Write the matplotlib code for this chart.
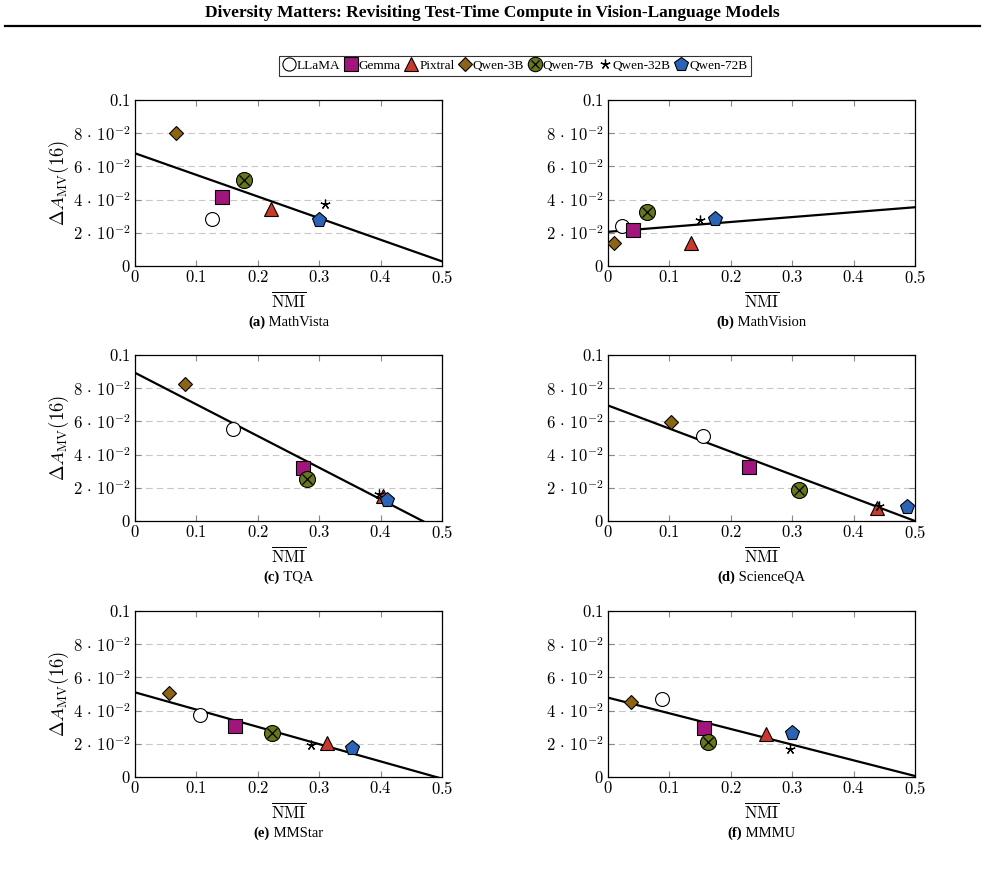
import numpy as np
import matplotlib
matplotlib.use('Agg')
import matplotlib.pyplot as plt
from matplotlib.lines import Line2D

plt.rcParams['mathtext.fontset'] = 'cm'
plt.rcParams['font.family'] = 'Liberation Serif'

# model order used in every panel
models = ['LLaMA', 'Gemma', 'Pixtral', 'Qwen-3B', 'Qwen-7B', 'Qwen-32B', 'Qwen-72B']

# (NMI, delta A_MV(16)) per benchmark
mathvista_x = [0.126, 0.142, 0.222, 0.067, 0.178, 0.310, 0.300]
mathvista_y = [0.0285, 0.0416, 0.0345, 0.0802, 0.0521, 0.0372, 0.0275]
mathvision_x = [0.023, 0.041, 0.135, 0.009, 0.063, 0.150, 0.175]
mathvision_y = [0.0238, 0.0218, 0.0140, 0.0141, 0.0325, 0.0278, 0.0285]
tqa_x = [0.159, 0.274, 0.404, 0.082, 0.280, 0.398, 0.411]
tqa_y = [0.0556, 0.0320, 0.0152, 0.0825, 0.0256, 0.0165, 0.0128]
scienceqa_x = [0.155, 0.230, 0.438, 0.102, 0.311, 0.442, 0.487]
scienceqa_y = [0.0512, 0.0324, 0.0080, 0.0598, 0.0184, 0.0088, 0.0082]
mmstar_x = [0.106, 0.163, 0.312, 0.056, 0.223, 0.286, 0.354]
mmstar_y = [0.0372, 0.0308, 0.0202, 0.0508, 0.0264, 0.0190, 0.0177]
mmmu_x = [0.088, 0.156, 0.258, 0.038, 0.163, 0.297, 0.300]
mmmu_y = [0.0470, 0.0298, 0.0262, 0.0450, 0.0212, 0.0166, 0.0263]

# regression line end points (value at NMI=0 and at NMI=0.5)
fit_start = [0.0679, 0.0206, 0.0893, 0.0696, 0.0510, 0.0478]
fit_end = [0.0028, 0.0354, -0.0060, 0.0000, -0.0010, 0.0006]

panels = [
    ('(a)', 'MathVista', mathvista_x, mathvista_y),
    ('(b)', 'MathVision', mathvision_x, mathvision_y),
    ('(c)', 'TQA', tqa_x, tqa_y),
    ('(d)', 'ScienceQA', scienceqa_x, scienceqa_y),
    ('(e)', 'MMStar', mmstar_x, mmstar_y),
    ('(f)', 'MMMU', mmmu_x, mmmu_y),
]

yticks = [0, 0.02, 0.04, 0.06, 0.08, 0.1]
ytick_labels = [r'$0$', r'$2\,\cdot\,10^{-2}$', r'$4\,\cdot\,10^{-2}$',
                r'$6\,\cdot\,10^{-2}$', r'$8\,\cdot\,10^{-2}$', r'$0.1$']
xticks = [0, 0.1, 0.2, 0.3, 0.4, 0.5]
xtick_labels = [r'$0$', r'$0.1$', r'$0.2$', r'$0.3$', r'$0.4$', r'$0.5$']

styles = {
    'LLaMA':    dict(marker='o', mfc='white', ms=10),
    'Gemma':    dict(marker='s', mfc='#A2157C', ms=10),
    'Pixtral':  dict(marker='^', mfc='#C9392D', ms=10),
    'Qwen-3B':  dict(marker='D', mfc='#8C6414', ms=7.5),
    'Qwen-7B':  dict(marker='o', mfc='#66781E', ms=11.5),
    'Qwen-32B': dict(marker=(5, 2, 0), mfc='black', ms=7),
    'Qwen-72B': dict(marker='p', mfc='#2B64B6', ms=11),
}

W, H = 985, 872
fig = plt.figure(figsize=(W / 100, H / 100), dpi=100)

# header
fig.text(0.5, 1 - 13 / H, 'Diversity Matters: Revisiting Test-Time Compute in Vision-Language Models',
         ha='center', va='center', fontsize=12.5, fontweight='bold')
fig.add_artist(Line2D([5 / W, 980 / W], [1 - 26 / H, 1 - 26 / H], color='black', lw=1.6))

col_x = [135, 608]
row_bottom = [266, 521, 777]
ax_w, ax_h = 307, 166

for i, (tag, name, xs, ys) in enumerate(panels):
    r, c = divmod(i, 2)
    left = col_x[c] / W
    bottom = 1 - row_bottom[r] / H
    ax = fig.add_axes([left, bottom, ax_w / W, ax_h / H])

    for y in yticks[1:-1]:
        ax.axhline(y, color='#c8c8c8', lw=0.8, dashes=(6, 3.5), zorder=0)

    ax.plot([0, 0.5], [fit_start[i], fit_end[i]], color='black', lw=1.6, zorder=2)

    for j, m in enumerate(models):
        st = styles[m]
        if m == 'Qwen-32B':
            ax.plot(xs[j], ys[j], marker=st['marker'], ms=st['ms'], color='black',
                    mew=0.9, ls='none', zorder=3)
        else:
            ax.plot(xs[j], ys[j], marker=st['marker'], ms=st['ms'], mfc=st['mfc'],
                    mec='black', mew=0.8, ls='none', zorder=3)
        if m == 'Qwen-7B':
            ax.plot(xs[j], ys[j], marker='x', ms=st['ms'] * 0.62, color='black',
                    mew=0.9, ls='none', zorder=4)

    ax.set_xlim(0, 0.5)
    ax.set_ylim(0, 0.1)
    ax.set_xticks(xticks)
    ax.set_xticklabels(xtick_labels)
    ax.set_yticks(yticks)
    ax.set_yticklabels(ytick_labels)
    ax.tick_params(direction='in', top=True, right=True, length=4, width=0.8,
                   color='#888888', labelsize=12, pad=3)
    for s in ax.spines.values():
        s.set_linewidth(0.9)
    ax.set_xlabel(r'$\overline{\mathrm{NMI}}$', fontsize=12, labelpad=3)
    if c == 0:
        ax.set_ylabel(r'$\Delta A_{\mathrm{MV}}(16)$', fontsize=13.5, labelpad=2)

    # sub-caption: bold tag + regular name, centred under the axes
    cx = (col_x[c] + ax_w / 2) / W
    cy = 1 - (row_bottom[r] + 56) / H
    renderer = fig.canvas.get_renderer()
    t1 = fig.text(0, cy, tag, fontsize=10.5, fontweight='bold', va='center')
    t2 = fig.text(0, cy, ' ' + name, fontsize=10.5, va='center')
    w1 = t1.get_window_extent(renderer).width / W
    w2 = t2.get_window_extent(renderer).width / W
    x0 = cx - (w1 + w2) / 2
    t1.set_x(x0)
    t2.set_x(x0 + w1)

# legend
handles = []
for m in models:
    st = styles[m]
    if m == 'Qwen-32B':
        handles.append(Line2D([], [], marker=st['marker'], ms=st['ms'], color='black',
                              mew=0.9, ls='none'))
    elif m == 'Qwen-7B':
        h1 = Line2D([], [], marker='o', ms=st['ms'] * 0.9, mfc=st['mfc'], mec='black',
                    mew=0.8, ls='none')
        h2 = Line2D([], [], marker='x', ms=st['ms'] * 0.55, color='black', mew=0.9, ls='none')
        handles.append((h1, h2))
    else:
        handles.append(Line2D([], [], marker=st['marker'], ms=st['ms'] * 0.95, mfc=st['mfc'],
                              mec='black', mew=0.8, ls='none'))

leg = fig.legend(handles, models, loc='center', bbox_to_anchor=(515 / W, 1 - 66 / H),
                 ncol=7, fontsize=9.5, frameon=True, fancybox=False, edgecolor='black',
                 handlelength=0.9, handletextpad=0.15, columnspacing=0.35,
                 borderpad=0.3, borderaxespad=0)
leg.get_frame().set_linewidth(0.8)

fig.savefig('out.png', dpi=100)
